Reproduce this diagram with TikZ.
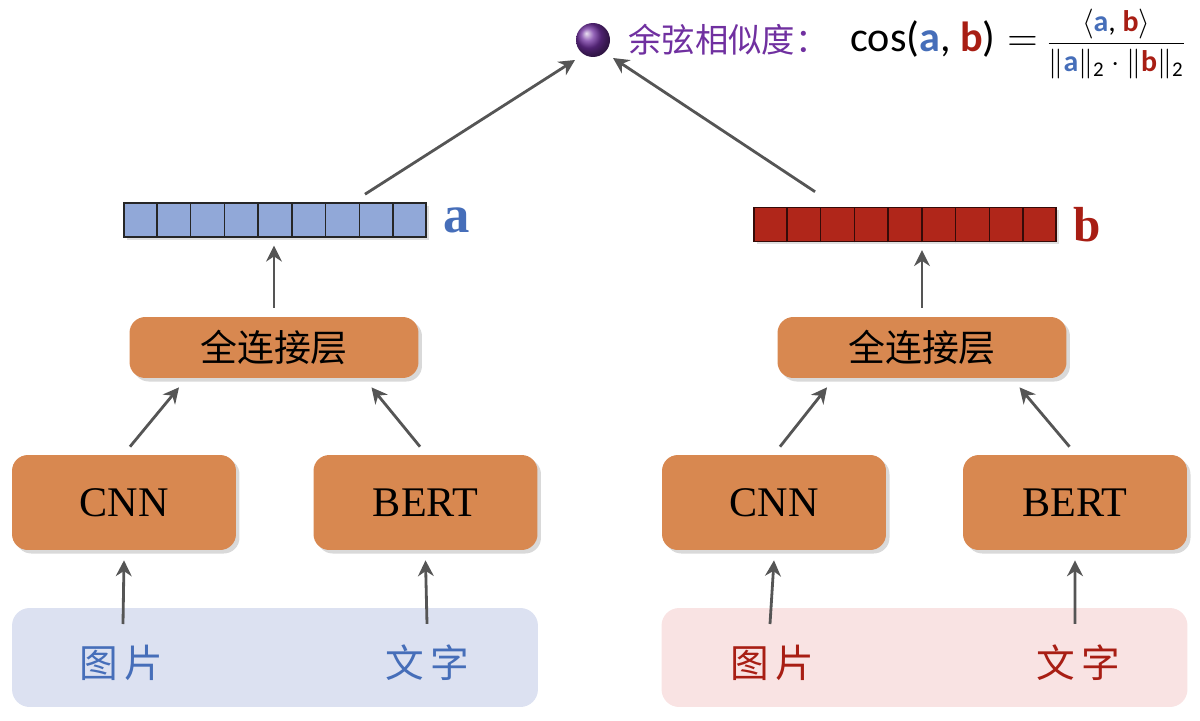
\documentclass[tikz,border=0pt]{standalone}
\usepackage{fix-cm}
\usepackage{amsmath}
\usepackage{fontspec}
\setmainfont{Liberation Serif}
\newfontfamily\cjk{Noto Sans CJK SC}
\newfontfamily\calfont{Carlito}
\usetikzlibrary{positioning,calc,shadows,arrows.meta}

\definecolor{boxorange}{RGB}{216,136,80}
\definecolor{cellblue}{RGB}{145,168,216}
\definecolor{cellred}{RGB}{176,38,26}
\definecolor{txtblue}{RGB}{70,110,185}
\definecolor{txtred}{RGB}{168,30,20}
\definecolor{simpurple}{RGB}{112,48,160}
\definecolor{arrowgray}{RGB}{85,85,85}
\definecolor{inblue}{RGB}{220,225,241}
\definecolor{inred}{RGB}{249,227,227}

\newcommand{\cf}[1]{\text{\calfont #1}}

\tikzset{
	netbox/.style={fill=boxorange, rounded corners=9pt, inner sep=0pt,
		drop shadow={opacity=0.3, shadow xshift=2pt, shadow yshift=-2pt}},
	vecbox/.style={draw=black!85, line width=0.9pt, minimum width=6.04cm, minimum height=0.68cm, inner sep=0pt,
		drop shadow={opacity=0.25, shadow xshift=1.5pt, shadow yshift=-1.5pt}},
	inbox/.style={rounded corners=10pt, minimum width=10.52cm, minimum height=1.98cm, inner sep=0pt},
	conn/.style={draw=arrowgray, line width=1.6pt, -{Stealth[length=9pt,width=9pt]}},
	intext/.style={font=\cjk\fontsize{22}{22}\selectfont}
}

\begin{document}
\begin{tikzpicture}[x=0.02cm, y=-0.02cm]
		\useasboundingbox (0,0) rectangle (1200,720);

		% Similarity on top
		\node[circle, shading=ball, ball color=simpurple, minimum size=0.68cm, inner sep=0pt] (ball) at (593,40) {};
		\node[anchor=west, text=simpurple, font=\cjk\fontsize{19}{19}\selectfont, inner sep=0pt] (title) at (628,40) {余弦相似度：};
		\node[anchor=west, font=\calfont\fontsize{24}{28}\selectfont, inner sep=0pt] (formula) at (850,44)
			{$\cf{cos(\textcolor{txtblue}{\bfseries a}, \textcolor{txtred}{\bfseries b})} = $\hspace{5pt}%
			{\fontsize{17}{20}\selectfont$\dfrac{\langle\cf{\textcolor{txtblue}{\bfseries a}, \textcolor{txtred}{\bfseries b}}\rangle}{\lVert\cf{\textcolor{txtblue}{\bfseries a}}\rVert_{\cf{2}}\cdot\lVert\cf{\textcolor{txtred}{\bfseries b}}\rVert_{\cf{2}}}$}};

		% Vectors a and b
		\node[vecbox, fill=cellblue] (veca) at (275,220) {};
		\node[vecbox, fill=cellred, draw=black!70!cellred] (vecb) at (905,224.5) {};
		\foreach \i in {1,...,8} {
			\draw[line width=0.9pt, black!85] ($(veca.south west)!\i/9!(veca.south east)$) -- ($(veca.north west)!\i/9!(veca.north east)$);
			\draw[line width=0.9pt, black!70!cellred] ($(vecb.south west)!\i/9!(vecb.south east)$) -- ($(vecb.north west)!\i/9!(vecb.north east)$);
		}
		\node[right=0.22cm of veca, text=txtblue, font=\fontsize{30}{30}\selectfont\bfseries] (labela) {a};
		\node[right=0.22cm of vecb, text=txtred, font=\fontsize{28}{28}\selectfont\bfseries] (labelb) {b};

		% Left branch
		\node[netbox, minimum width=5.78cm, minimum height=1.22cm, font=\cjk\fontsize{21}{21}\selectfont] (fcl) at (274,347.5) {全连接层};
		\node[netbox, minimum width=4.48cm, minimum height=1.9cm, font=\fontsize{24}{24}\selectfont] (cnnl) at (124,502.5) {CNN};
		\node[netbox, minimum width=4.48cm, minimum height=1.9cm, font=\fontsize{24}{24}\selectfont] (bertl) at (425.5,502.5) {BERT};
		\node[inbox, fill=inblue] (inl) at (275,657.5) {};
		\node[intext, text=txtblue] (imgl) at (121,663) {图\,片};
		\node[intext, text=txtblue] (txtl) at (427,663) {文\,字};

		% Right branch
		\node[netbox, minimum width=5.78cm, minimum height=1.22cm, font=\cjk\fontsize{21}{21}\selectfont] (fcr) at (922,347.5) {全连接层};
		\node[netbox, minimum width=4.48cm, minimum height=1.9cm, font=\fontsize{24}{24}\selectfont] (cnnr) at (774,502.5) {CNN};
		\node[netbox, minimum width=4.48cm, minimum height=1.9cm, font=\fontsize{24}{24}\selectfont] (bertr) at (1075,502.5) {BERT};
		\node[inbox, fill=inred] (inr) at (924.5,657.5) {};
		\node[intext, text=txtred] (imgr) at (772,663) {图\,片};
		\node[intext, text=txtred] (txtr) at (1078,663) {文\,字};

		% Arrows
		\draw[conn] ([xshift=1.8cm,yshift=0.16cm]veca.north) -- ([xshift=-0.36cm,yshift=-0.4cm]ball.center);
		\draw[conn] ([xshift=-1.8cm,yshift=0.3cm]vecb.north) -- ([xshift=0.4cm,yshift=-0.36cm]ball.center);
		\draw[conn, shorten <=5pt, shorten >=4.5pt] (fcl.north) -- (fcl.north |- veca.south);
		\draw[conn, shorten <=5pt, shorten >=4.5pt] (fcr.north) -- (fcr.north |- vecb.south);
		\draw[conn] ([xshift=0.12cm,yshift=0.16cm]cnnl.north) -- ([xshift=-1.9cm,yshift=-0.18cm]fcl.south);
		\draw[conn] ([xshift=-0.11cm,yshift=0.16cm]bertl.north) -- ([xshift=1.95cm,yshift=-0.18cm]fcl.south);
		\draw[conn] ([xshift=0.12cm,yshift=0.16cm]cnnr.north) -- ([xshift=-1.9cm,yshift=-0.18cm]fcr.south);
		\draw[conn] ([xshift=-0.11cm,yshift=0.16cm]bertr.north) -- ([xshift=1.95cm,yshift=-0.18cm]fcr.south);
		\draw[conn] ([xshift=0.04cm,yshift=0.3cm]imgl.north) -- ([yshift=-0.2cm]cnnl.south);
		\draw[conn] ([yshift=0.3cm]txtl.north) -- ([yshift=-0.2cm]bertl.south);
		\draw[conn] ([xshift=-0.04cm,yshift=0.3cm]imgr.north) -- ([yshift=-0.2cm]cnnr.south);
		\draw[conn] ([xshift=-0.06cm,yshift=0.3cm]txtr.north) -- ([yshift=-0.2cm]bertr.south);
	\end{tikzpicture}
\end{document}
